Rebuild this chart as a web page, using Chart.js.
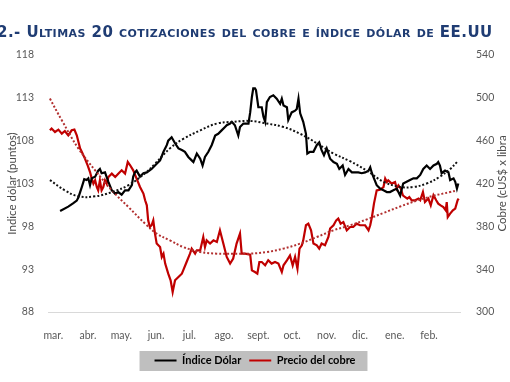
<!DOCTYPE html>
<html><head><meta charset="utf-8">
<script src="https://cdn.jsdelivr.net/npm/chart.js@4/dist/chart.umd.min.js"></script>
<style>
html,body{margin:0;padding:0;background:#fff;width:510px;height:382px;overflow:hidden;}
#wrap{position:relative;width:510px;height:382px;}
canvas{position:absolute;left:0;top:0;}
#title{position:absolute;left:-3px;top:23px;font-family:"DejaVu Sans",Verdana,sans-serif;font-weight:bold;font-size:15px;line-height:18px;letter-spacing:0.45px;font-variant:small-caps;color:#1f3c73;white-space:nowrap;}
</style></head><body>
<div id="wrap"><canvas id="c" width="510" height="382"></canvas><div id="title">2.- Ultimas 20 cotizaciones del cobre e índice dólar de EE.UU</div></div>
<script>
// x unit: months elapsed since the start of March
const months = ['mar.','abr.','may.','jun.','jul.','ago.','sept.','oct.','nov.','dic.','ene.','feb.'];
const monthStarts = [-0.05,0.97,1.95,2.97,3.95,4.97,5.98,6.97,7.99,8.97,9.99,11.0];
const dolarTicks = [88,93,98,103,108,113,118];
const cobreTicks = [300,340,380,420,460,500,540];

const dolarX = [0.15,0.39,0.54,0.64,0.69,0.79,0.86,0.93,0.98,1.03,
1.08,1.18,1.27,1.32,1.37,1.47,1.57,1.67,1.77,1.86,
1.96,2.06,2.16,2.26,2.30,2.35,2.40,2.50,2.60,2.70,
2.84,2.94,2.99,3.09,3.19,3.29,3.33,3.43,3.53,3.63,
3.73,3.82,3.92,4.02,4.07,4.17,4.27,4.34,4.41,4.51,
4.61,4.71,4.80,4.90,5.00,5.05,5.15,5.20,5.29,5.39,
5.44,5.54,5.69,5.74,5.79,5.83,5.88,5.91,5.98,6.08,
6.13,6.18,6.23,6.32,6.42,6.52,6.62,6.67,6.72,6.82,
6.86,6.96,7.06,7.11,7.16,7.21,7.30,7.38,7.42,7.50,
7.60,7.70,7.77,7.84,7.91,7.99,8.09,8.19,8.29,8.36,
8.46,8.53,8.63,8.73,8.82,8.92,9.02,9.12,9.22,9.27,
9.32,9.38,9.46,9.56,9.66,9.76,9.85,9.95,10.05,10.15,
10.20,10.24,10.34,10.44,10.54,10.64,10.74,10.83,10.93,11.03,
11.13,11.23,11.27,11.32,11.37,11.47,11.57,11.62,11.72,11.77,
11.82,11.86];
const dolarY = [99.8,100.3,100.7,101.0,101.4,102.6,103.5,103.4,103.6,102.8,
103.6,103.8,104.5,104.7,104.2,104.3,103.2,102.2,101.8,102.0,
101.7,102.2,102.2,102.8,103.8,104.3,104.5,103.8,104.2,104.3,
104.7,105.1,105.3,105.7,106.7,107.5,108.0,108.4,107.7,107.1,
106.9,106.7,106.1,105.7,105.5,106.5,105.9,105.1,106.1,106.7,
107.5,108.6,108.8,109.2,109.6,109.8,110.0,110.2,109.8,108.6,
109.6,110.0,110.0,111.3,113.1,114.1,114.1,113.9,111.9,111.9,
110.8,110.2,112.5,113.1,113.3,112.9,112.3,112.9,112.1,111.9,
110.4,111.3,111.5,111.7,112.9,111.2,110.2,108.8,106.5,106.7,
106.7,107.5,107.8,106.9,106.3,107.1,105.9,105.5,105.3,104.7,
105.1,104.0,104.7,104.3,104.3,104.3,104.2,104.3,104.5,104.9,
104.2,103.6,102.8,102.4,102.2,102.0,102.0,102.2,102.4,101.6,
102.4,103.0,103.2,103.4,103.6,103.6,104.0,104.7,105.1,104.7,
105.1,105.3,105.5,105.1,104.2,104.5,104.3,103.4,103.6,103.2,
102.4,103.0];

const cobreX = [-0.15,-0.10,0.00,0.10,0.20,0.29,0.39,0.49,0.57,0.64,
0.69,0.74,0.79,0.88,0.96,1.03,1.08,1.13,1.18,1.23,
1.27,1.32,1.37,1.42,1.47,1.52,1.57,1.67,1.77,1.86,
1.96,2.06,2.14,2.21,2.30,2.40,2.50,2.60,2.65,2.70,
2.74,2.79,2.84,2.89,2.94,2.99,3.09,3.14,3.19,3.24,
3.33,3.40,3.46,3.53,3.63,3.73,3.77,3.87,3.97,4.02,
4.12,4.17,4.27,4.36,4.41,4.46,4.56,4.66,4.76,4.85,
4.95,5.05,5.15,5.24,5.34,5.44,5.49,5.59,5.74,5.79,
5.88,5.95,6.01,6.08,6.18,6.27,6.37,6.47,6.57,6.67,
6.72,6.82,6.91,6.99,7.06,7.13,7.19,7.26,7.30,7.38,
7.45,7.53,7.60,7.70,7.77,7.84,7.94,8.04,8.09,8.19,
8.27,8.33,8.40,8.48,8.58,8.68,8.77,8.87,8.97,9.12,
9.22,9.27,9.32,9.38,9.46,9.56,9.66,9.71,9.76,9.80,
9.90,10.00,10.05,10.10,10.17,10.23,10.29,10.36,10.42,10.49,
10.59,10.69,10.74,10.82,10.88,10.98,11.05,11.13,11.21,11.27,
11.34,11.42,11.49,11.52,11.55,11.62,11.70,11.77,11.84,11.87];
const cobreY = [469.7,471.3,468.1,470.3,466.6,469.0,465.0,469.7,470.3,465.0,
458.8,452.6,449.4,443.2,437.0,430.7,424.6,419.9,423.0,416.7,
413.6,423.0,413.6,416.7,423.0,419.9,426.1,429.2,426.1,429.2,
432.3,429.2,440.1,437.0,432.3,424.6,416.7,410.6,404.3,399.6,
385.6,379.4,381.0,385.6,373.2,363.9,360.7,351.4,354.5,345.2,
335.8,329.6,318.7,329.6,332.7,335.8,338.9,346.7,354.5,359.2,
354.5,357.6,357.6,370.0,360.7,366.9,363.9,366.9,365.4,376.3,
363.9,351.4,345.2,349.9,363.9,373.2,354.5,354.5,353.5,338.9,
337.3,335.8,346.7,346.7,343.6,348.3,345.2,346.7,345.2,337.3,
343.6,348.3,352.9,343.6,351.4,340.5,359.2,362.3,366.9,381.0,
382.5,376.3,363.9,362.3,359.2,363.9,362.3,370.0,377.9,381.0,
385.6,387.2,382.5,384.0,376.3,379.4,379.4,382.5,381.0,381.0,
376.3,381.0,388.7,401.2,413.6,414.3,416.7,424.6,421.4,423.0,
419.9,421.4,415.2,418.3,415.2,409.0,407.4,405.9,407.4,404.3,
404.3,405.9,404.3,412.1,402.7,405.9,399.6,409.0,404.3,401.2,
399.6,398.0,395.0,402.7,388.7,391.9,395.0,396.6,404.3,405.9];

const trendDolarX = [-0.15,0.29,0.69,1.18,1.67,2.16,2.65,2.94,3.38,3.77,4.27,4.76,5.24,5.74,6.23,6.72,7.21,7.70,8.19,8.68,9.17,9.66,10.15,10.54,10.93,11.32,11.62,11.82];
const trendDolarY = [103.4,102.2,101.5,101.5,102.0,102.8,104.2,105.3,107.1,108.2,109.2,110.0,110.2,110.3,110.0,109.6,108.8,107.7,106.5,105.6,104.5,103.2,102.6,102.6,103.0,103.8,104.7,105.5];
const trendCobreX = [-0.15,0.20,0.69,1.18,1.67,2.16,2.65,2.99,3.38,3.77,4.27,4.76,5.24,5.74,6.23,6.72,7.21,7.70,8.19,8.68,9.17,9.66,10.15,10.64,11.13,11.62,11.82];
const trendCobreY = [499.3,479.0,452.6,432.3,413.6,398.0,382.5,373.2,366.9,360.7,356.0,354.5,354.5,354.5,356.0,359.2,363.9,370.0,376.3,381.0,386.5,392.5,398.5,404.0,408.5,412.0,413.5];

const pts = (xs, ys) => xs.map((x, i) => ({x: x, y: ys[i]}));
const tickFont = {family: 'Lato', size: 10.5};
const tickColor = '#595959';

const legendBg = {
  id: 'legendBg',
  beforeDraw(chart) {
    const lg = chart.legend;
    if (!lg || !lg.legendHitBoxes || !lg.legendHitBoxes.length) return;
    const hb = lg.legendHitBoxes;
    const l = Math.min(...hb.map(h => h.left)) - 15;
    const r = Math.max(...hb.map(h => h.left + h.width)) + 12;
    const t = hb[0].top - 4, b = hb[0].top + hb[0].height + 5;
    const ctx = chart.ctx;
    ctx.save(); ctx.fillStyle = '#bfbfbf'; ctx.fillRect(l, t, r - l, b - t); ctx.restore();
  }
};
const rightTitle = {
  id: 'rightTitle',
  afterDraw(chart) {
    const ctx = chart.ctx, ca = chart.chartArea, s = chart.scales.y1;
    ctx.save();
    ctx.translate(s.right - 8, (ca.top + ca.bottom) / 2);
    ctx.rotate(-Math.PI / 2);
    ctx.font = '11.5px Lato'; ctx.fillStyle = '#4d4d4d';
    ctx.textAlign = 'center'; ctx.textBaseline = 'middle';
    ctx.fillText('Cobre (cUS$ x libra', 0, 0);
    ctx.restore();
  }
};

new Chart(document.getElementById('c'), {
  type: 'line',
  data: {
    datasets: [
      {label: 'Índice Dólar', data: pts(dolarX, dolarY), yAxisID: 'y', borderColor: '#000000', backgroundColor: '#000000', borderWidth: 2.2, pointRadius: 0, tension: 0, order: 2},
      {label: 'Precio del cobre', data: pts(cobreX, cobreY), yAxisID: 'y1', borderColor: '#c00000', backgroundColor: '#c00000', borderWidth: 2.2, pointRadius: 0, tension: 0, order: 3},
      {label: 'Tendencia dólar', data: pts(trendDolarX, trendDolarY), yAxisID: 'y', borderColor: '#111111', borderWidth: 2, borderDash: [2, 2], pointRadius: 0, tension: 0.4, order: 0},
      {label: 'Tendencia cobre', data: pts(trendCobreX, trendCobreY), yAxisID: 'y1', borderColor: '#b23030', borderWidth: 2, borderDash: [2, 2], pointRadius: 0, tension: 0.4, order: 1}
    ]
  },
  options: {
    responsive: false, animation: false, devicePixelRatio: 1,
    layout: {padding: {top: 55, left: 0, right: 0, bottom: 6}},
    plugins: {
      tooltip: {enabled: false},
      legend: {
        position: 'bottom',
        labels: {
          font: {family: 'Lato', size: 11, weight: 'bold'}, color: '#000000',
          boxWidth: 22, boxHeight: 2, padding: 8,
          filter: item => item.datasetIndex < 2,
          generateLabels: chart => chart.data.datasets.slice(0, 2).map((d, i) => ({
            text: d.label, fillStyle: d.borderColor, strokeStyle: d.borderColor, lineWidth: 0, hidden: false, datasetIndex: i
          }))
        }
      }
    },
    scales: {
      x: {
        type: 'linear', min: -0.206, max: 11.91,
        afterBuildTicks: s => { s.ticks = monthStarts.map(v => ({value: v})); },
        afterFit: s => { s.height = 35; },
        ticks: {callback: (v, i) => months[i], font: tickFont, color: tickColor, padding: 9, autoSkip: false, maxRotation: 0},
        grid: {display: false},
        border: {display: true, color: '#d9d9d9', width: 1}
      },
      y: {
        position: 'left', min: 88, max: 118,
        afterBuildTicks: s => { s.ticks = dolarTicks.map(v => ({value: v})); },
        afterFit: s => { s.width = 48; },
        ticks: {font: tickFont, color: tickColor, padding: 6},
        grid: {display: false}, border: {display: false},
        title: {display: true, text: 'Indice dólar (puntos)', font: {family: 'Lato', size: 11.5}, color: '#4d4d4d', padding: {top: 5, bottom: 0}}
      },
      y1: {
        position: 'right', min: 300, max: 540,
        afterBuildTicks: s => { s.ticks = cobreTicks.map(v => ({value: v})); },
        afterFit: s => { s.width = 50; },
        ticks: {font: tickFont, color: tickColor, padding: 8},
        grid: {display: false}, border: {display: false}
      }
    }
  },
  plugins: [legendBg, rightTitle]
});
</script>
</body></html>
